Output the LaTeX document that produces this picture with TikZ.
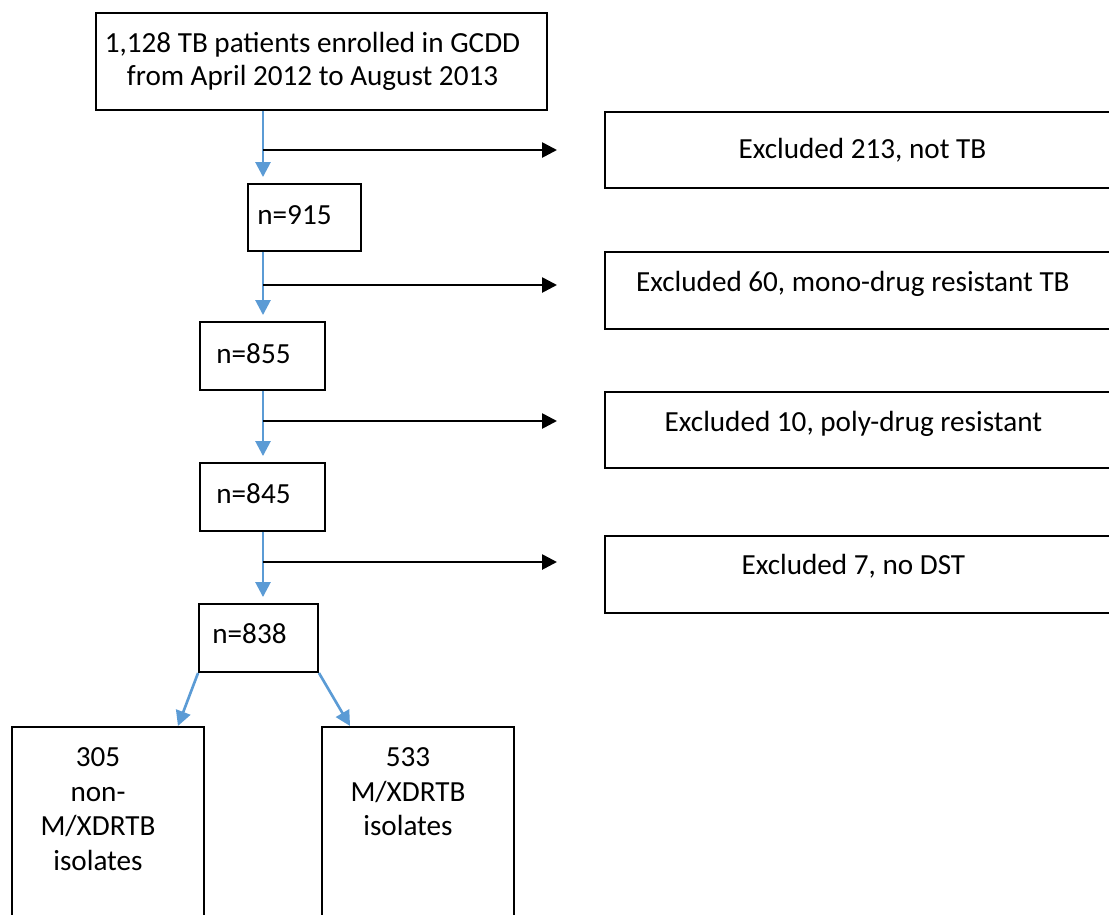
\documentclass[tikz,border=0pt]{standalone}
\usepackage{fontspec}
\setmainfont{Carlito}
\usetikzlibrary{arrows.meta}
\definecolor{flowblue}{RGB}{91,155,213}

\begin{document}
\begin{tikzpicture}[x=0.02cm, y=-0.02cm,
		font=\fontsize{16.6}{18.8}\selectfont,
		box/.style={draw, line width=1.1pt, inner sep=0pt},
		lbl/.style={inner sep=0pt},
		flow/.style={flowblue, line width=1.5pt, -{Triangle[length=0.3cm, width=0.3cm]}},
		side/.style={black, line width=1.5pt, -{Triangle[length=0.3cm, width=0.3cm]}, shorten >=0.94cm}]
		\useasboundingbox (0,0) rectangle (1109,914);
		\clip (0,0) rectangle (1109,914);
		
		% main column
		\node (top)[box, minimum width=9.02cm, minimum height=1.94cm,
			label={[lbl, align=center, xshift=-0.18cm]center:{1,128 TB patients enrolled in GCDD\\from April 2012 to August 2013}}] at (321.5,61.5) {};
		\node (n915)[box, minimum width=2.26cm, minimum height=1.34cm,
			label={[lbl, anchor=west, xshift=0.2cm, yshift=0.05cm]west:{n=915}}] at (304.5,217.5) {};
		\node (n855)[box, minimum width=2.5cm, minimum height=1.36cm,
			label={[lbl, anchor=west, xshift=0.34cm, yshift=0.05cm]west:{n=855}}] at (262.5,356) {};
		\node (n845)[box, minimum width=2.5cm, minimum height=1.36cm,
			label={[lbl, anchor=west, xshift=0.34cm, yshift=0.07cm]west:{n=845}}] at (262.5,497) {};
		\node (n838)[box, minimum width=2.38cm, minimum height=1.36cm,
			label={[lbl, anchor=west, xshift=0.28cm, yshift=0.08cm]west:{n=838}}] at (258.5,638) {};
		
		% exclusions
		\node (ex1)[box, anchor=west, minimum width=10.4cm, minimum height=1.52cm,
			label={[lbl, xshift=-0.05cm]center:{Excluded 213, not TB}}] at (604,150) {};
		\node (ex2)[box, anchor=west, minimum width=10.4cm, minimum height=1.54cm,
			label={[lbl, xshift=-0.24cm, yshift=0.13cm]center:{Excluded 60, mono-drug resistant TB}}] at (604,290.5) {};
		\node (ex3)[box, anchor=west, minimum width=10.4cm, minimum height=1.52cm,
			label={[lbl, xshift=-0.23cm, yshift=0.13cm]center:{Excluded 10, poly-drug resistant}}] at (604,430) {};
		\node (ex4)[box, anchor=west, minimum width=10.4cm, minimum height=1.54cm,
			label={[lbl, xshift=-0.23cm, yshift=0.16cm]center:{Excluded 7, no DST}}] at (604,574.5) {};
		
		% split
		\node (b305)[box, anchor=north, minimum width=3.84cm, minimum height=4.4cm,
			label={[lbl, align=center, anchor=north, xshift=-0.2cm, yshift=-0.42cm, font=\fontsize{16.6}{19.8}\selectfont]north:{305\\non-\\M/XDRTB\\isolates}}] at (108,726) {};
		\node (b533)[box, anchor=north, minimum width=3.84cm, minimum height=4.4cm,
			label={[lbl, align=center, anchor=north, xshift=-0.2cm, yshift=-0.42cm, font=\fontsize{16.6}{19.8}\selectfont]north:{533\\M/XDRTB\\isolates}}] at (418,726) {};
		
		\coordinate (spine) at (263,0);
		\coordinate (j1) at (263,150);
		\coordinate (j2) at (263,285);
		\coordinate (j3) at (263,421);
		\coordinate (j4) at (263,562);
		
		\foreach \a/\b in {top/n915, n915/n855, n855/n845, n845/n838}
			\draw[flow, shorten >=0.12cm] (\a.south -| spine) -- (\b.north -| spine);
		\foreach \j/\e in {j1/ex1, j2/ex2, j3/ex3, j4/ex4}
			\draw[side] (\j) -- (\j -| \e.west);
		
		\draw[flow] (n838.south west) -- ([xshift=-0.54cm]b305.north east);
		\draw[flow] (n838.south east) -- ([xshift=0.58cm]b533.north west);
	\end{tikzpicture}
\end{document}
